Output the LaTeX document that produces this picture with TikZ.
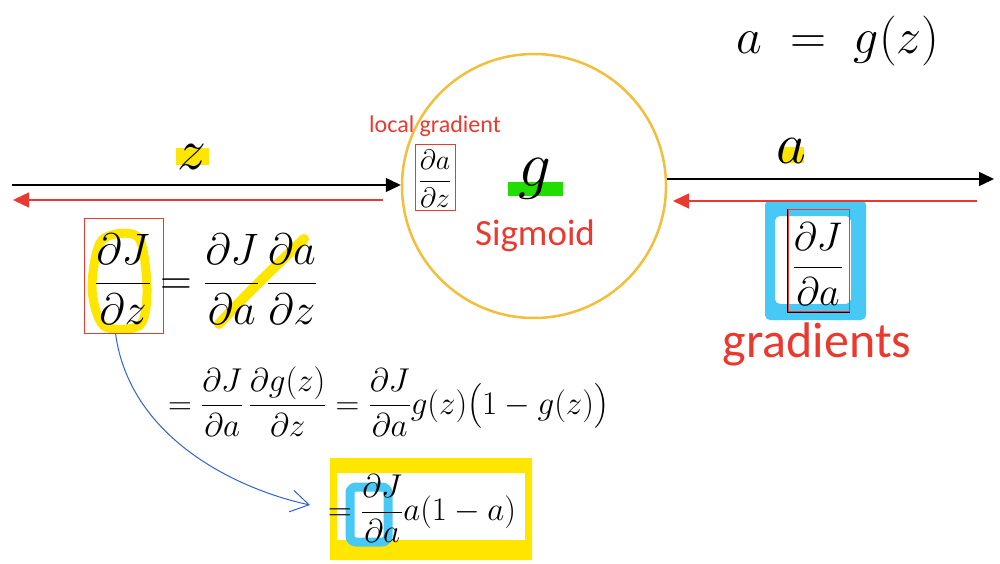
\RequirePackage{fix-cm}
\documentclass[tikz,border=0pt]{standalone}
\usepackage{amsmath}
\usepackage{fontspec}
\newfontfamily\calibri{Carlito}
\usetikzlibrary{arrows.meta,positioning}
\definecolor{penred}{HTML}{EA3A2F}
\definecolor{hlyellow}{HTML}{FFE600}
\definecolor{hlblue}{HTML}{48C8F4}
\definecolor{hlgreen}{HTML}{22DD00}
\definecolor{ringgold}{HTML}{F4BE3A}
\definecolor{inkblue}{HTML}{2F5FDC}
\newcommand{\setfs}[1]{\fontsize{#1}{#1}\selectfont}
\newcommand{\pd}[2]{\dfrac{\partial #1}{\partial #2}}
\tikzstyle{mth}=[inner sep=0pt]
\tikzstyle{redbox}=[draw=penred,line width=1pt,inner sep=0pt]
\tikzstyle{lbl}=[text=penred,inner sep=0pt]
\tikzstyle{fwd}=[-{Triangle[length=15pt,width=14pt]},line width=1.4pt]
\tikzstyle{bwd}=[-{Triangle[length=16pt,width=15pt]},line width=1.4pt,penred]
\tikzstyle{hl}=[line cap=round,line join=round]

\begin{document}
\begin{tikzpicture}[x=1pt,y=-1pt]
\useasboundingbox (0,0) rectangle (1000,564);
% marker highlights
\fill[hlyellow] (176,148) rectangle (209,165);
\fill[hlyellow] (782,147) rectangle (804,163);
\fill[hlgreen] (508,182) rectangle (563,196);
\draw[hlyellow,line width=9pt,hl] plot[smooth cycle] coordinates {(102,240) (138,237) (147,288) (140,325) (104,326) (92,288)};
\draw[hlyellow,line width=10pt,hl] (219,324) .. controls (250,290) and (280,262) .. (304,239);
\fill[hlblue,rounded corners=5pt,even odd rule] (765,200) rectangle (866,320) (775,216) rectangle (851,304);
\fill[hlyellow,even odd rule] (330,458) rectangle (532,560) (337,473) rectangle (525,540);
\draw[hlblue,line width=9pt,rounded corners=6pt] (350,487) rectangle (388,542);

% sigmoid unit
\node (sig) [circle,draw=ringgold,line width=2.5pt,minimum size=264pt,inner sep=0pt] at (534,186) {};
\node (g) [mth,font=\setfs{65}] at (535,179) {$g$};
\node (sigtxt) [lbl,font=\calibri\setfs{37}] at (535,236) {Sigmoid};
\node (locbox) [redbox,minimum width=40pt,minimum height=65pt] at (435,177.5) {};
\node (loc) [mth,font=\setfs{28}] at (435,179) {$\pd{a}{z}$};
\node (locgrad) [lbl,font=\calibri\setfs{24},above=8pt of locbox] {local gradient};
\node (title) [mth,font=\setfs{50}] at (838,41) {$a\;=\;g(z)$};

% forward and backward passes
\coordinate (zin) at (12,185);
\coordinate (zbs) at (383,200);
\coordinate (zbe) at (13,200);
\coordinate (aout) at (994,179);
\coordinate (abs) at (977,201);
\coordinate (abe) at (673,201);
\draw[fwd] (zin) -- (zin -| sig.west);
\draw[bwd] (zbs) -- (zbe);
\draw[fwd] (sig.east |- aout) -- (aout);
\draw[bwd] (abs) -- (abe);
\node (zlbl) [mth,font=\setfs{58}] at (192,157) {$z$};
\node (albl) [mth,font=\setfs{58}] at (791,151) {$a$};

% chain rule
\node (lhsbox) [redbox,minimum width=79pt,minimum height=115pt] at (123.5,275.5) {};
\node (lhs) [mth,font=\setfs{44}] at (123,279) {$\pd{J}{z}$};
\node (rhs) [mth,font=\setfs{44},anchor=west] at (160,279) {$=\pd{J}{a}\,\pd{a}{z}$};
\node (step1) [mth,font=\setfs{33},anchor=west] at (168,402) {$=\pd{J}{a}\,\pd{g(z)}{z}=\pd{J}{a}g(z)\bigl(1-g(z)\bigr)$};
\node (final) [mth,font=\setfs{33},anchor=west] at (328,509) {$=\pd{J}{a}a(1-a)$};
\coordinate (tip) at (310,505);
\draw[inkblue,line width=1pt,-{Straight Barb[length=18pt,width=22pt]}] ([xshift=-8pt]lhsbox.south) .. controls (130,440) and (240,490) .. (tip);

% upstream gradient
\node (gradbox) [draw=black,line width=0.8pt,minimum width=62pt,minimum height=103pt,inner sep=0pt] at (818,260.5) {};
\draw[penred,line width=0.8pt] ([xshift=2pt,yshift=1pt]gradbox.south west) rectangle ([yshift=-1pt]gradbox.north east);
\node (grad) [mth,font=\setfs{40}] at (818,264) {$\pd{J}{a}$};
\node (gradtxt) [lbl,font=\calibri\setfs{50}] at (817,344) {gradients};
\end{tikzpicture}
\end{document}
